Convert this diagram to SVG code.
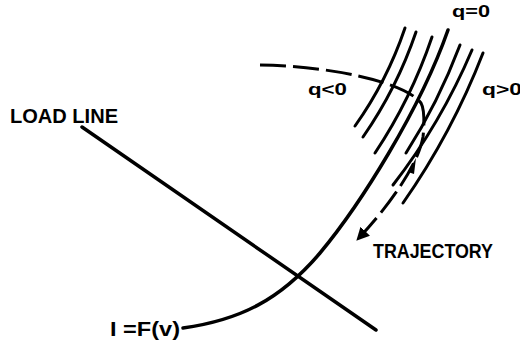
<svg xmlns="http://www.w3.org/2000/svg" width="520" height="342" viewBox="0 0 520 342">
  <style>
    .ln { fill: none; stroke: #000; stroke-width: 3; stroke-linecap: round; }
    .main { fill: none; stroke: #000; stroke-width: 3.5; stroke-linecap: round; }
    .dash { fill: none; stroke: #000; stroke-width: 3; stroke-linecap: butt; stroke-dasharray: 26 7; }
    .lbl { font-family: "Liberation Sans", Arial, sans-serif; font-weight: 700; fill: #000; }
  </style>
  <defs>
    <marker id="arrow" markerUnits="userSpaceOnUse" markerWidth="14" markerHeight="14" refX="12" refY="6.5" orient="auto">
      <path d="M0,0 L13,6.5 L0,13 z" fill="#000"/>
    </marker>
  </defs>
  <rect width="520" height="342" fill="#fff"/>

  <g id="field-lines">
    <path class="ln" d="M405,28 Q387,81 355,126"/>
    <path class="ln" d="M416,32 Q397,88 363,137"/>
    <path class="ln" d="M432,37 Q411,99 375,153"/>
    <path class="ln" d="M460,45 Q438,103 406,153"/>
    <path class="ln" d="M472,50 Q441,123 393,185"/>
    <path class="ln" d="M483,53 Q452,133 403,203"/>
  </g>

  <g id="iv-curve">
    <path class="main" d="M183,328 C240,320 280,300 320,253 C360,205 420,110 448,30"/>
  </g>

  <g id="load-line">
    <path class="main" d="M82,127 L376,330"/>
  </g>

  <g id="connectors">
    <path id="trajectory" class="dash" d="M260,65 C330,66 405,82 421,103 C425,110 424,128 423,137 C418,165 390,205 357,240" marker-end="url(#arrow)"/>
    <path d="M416,158 L408,172 L414,174 z" fill="#000"/>
  </g>

  <g id="labels">
    <text class="lbl" x="10" y="123" font-size="20" textLength="108" lengthAdjust="spacingAndGlyphs">LOAD LINE</text>
    <text class="lbl" x="373" y="258" font-size="20" textLength="120" lengthAdjust="spacingAndGlyphs">TRAJECTORY</text>
    <text class="lbl" x="308" y="95" font-size="17" textLength="39" lengthAdjust="spacingAndGlyphs">q&lt;0</text>
    <text class="lbl" x="452" y="17" font-size="17" textLength="38" lengthAdjust="spacingAndGlyphs">q=0</text>
    <text class="lbl" x="482" y="95" font-size="17" textLength="40" lengthAdjust="spacingAndGlyphs">q&gt;0</text>
    <text class="lbl" x="110" y="336" font-size="20" textLength="70" lengthAdjust="spacingAndGlyphs">I =F(v)</text>
  </g>
</svg>
